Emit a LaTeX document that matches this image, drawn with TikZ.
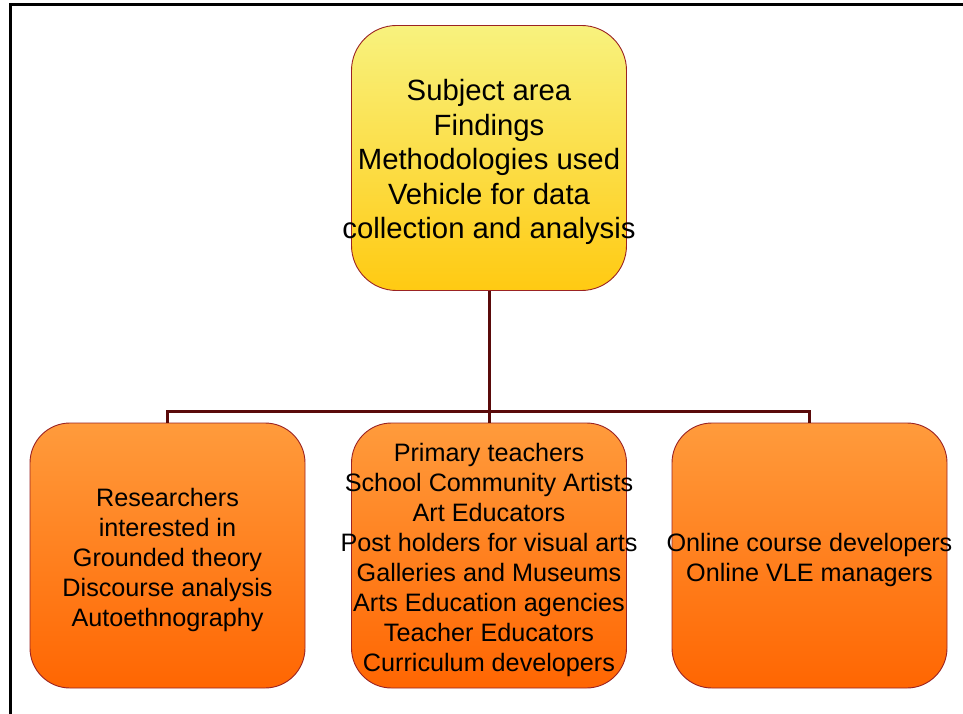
\documentclass[tikz,border=0pt]{standalone}
\usepackage{fontspec}
\setmainfont{Liberation Sans}
\definecolor{boxline}{HTML}{9B2323}
\definecolor{conn}{HTML}{5A0A0A}
\definecolor{yeltop}{HTML}{F8F27E}
\definecolor{yelbot}{HTML}{FFCA12}
\definecolor{ortop}{HTML}{FF9B3C}
\definecolor{orbot}{HTML}{FF6602}
\begin{document}
\begin{tikzpicture}[x=1pt,y=-1pt,
  basebox/.style={draw=boxline, line width=0.9pt, minimum width=275pt, minimum height=265pt, inner sep=0pt},
  topbox/.style={basebox, rounded corners=45pt, top color=yeltop, bottom color=yelbot},
  orbox/.style={basebox, rounded corners=40pt, top color=ortop, bottom color=orbot},
  bigtxt/.style={align=center, inner sep=0pt, font=\fontsize{29.3}{34.5}\selectfont},
  smalltxt/.style={align=center, inner sep=0pt, font=\fontsize{25.2}{30}\selectfont},
  connector/.style={draw=conn, line width=3pt}]
\clip (0,0) rectangle (963,714);
\useasboundingbox (0,0) rectangle (963,714);
\fill[white] (0,0) rectangle (963,714);
\draw[line width=3pt] (10.5,5) rectangle (1100,900);

\node[topbox] (top) at (489,158) {};
\node[orbox] (left) at (167.5,555.5) {};
\node[orbox] (mid) at (489,555.5) {};
\node[orbox] (right) at (809.5,555.5) {};
\coordinate (j) at (489,411);

\draw[connector] (top.south) -- (j);
\draw[connector] (j) -| (left.north);
\draw[connector] (j) -| (right.north);
\draw[connector] (j) -- (mid.north);

\node[bigtxt] (toptext) at ([yshift=-4pt]top.center) {Subject area\\Findings\\Methodologies used\\Vehicle for data\\collection and analysis};
\node[smalltxt] (lefttext) at ([yshift=-4pt]left.center) {Researchers\\interested in\\Grounded theory\\Discourse analysis\\Autoethnography};
\node[smalltxt] (midtext) at ([yshift=-4pt]mid.center) {Primary teachers\\School Community Artists\\Art Educators\\Post holders for visual arts\\Galleries and Museums\\Arts Education agencies\\Teacher Educators\\Curriculum developers};
\node[smalltxt] (righttext) at ([yshift=-4pt]right.center) {Online course developers\\Online VLE managers};
\end{tikzpicture}
\end{document}
